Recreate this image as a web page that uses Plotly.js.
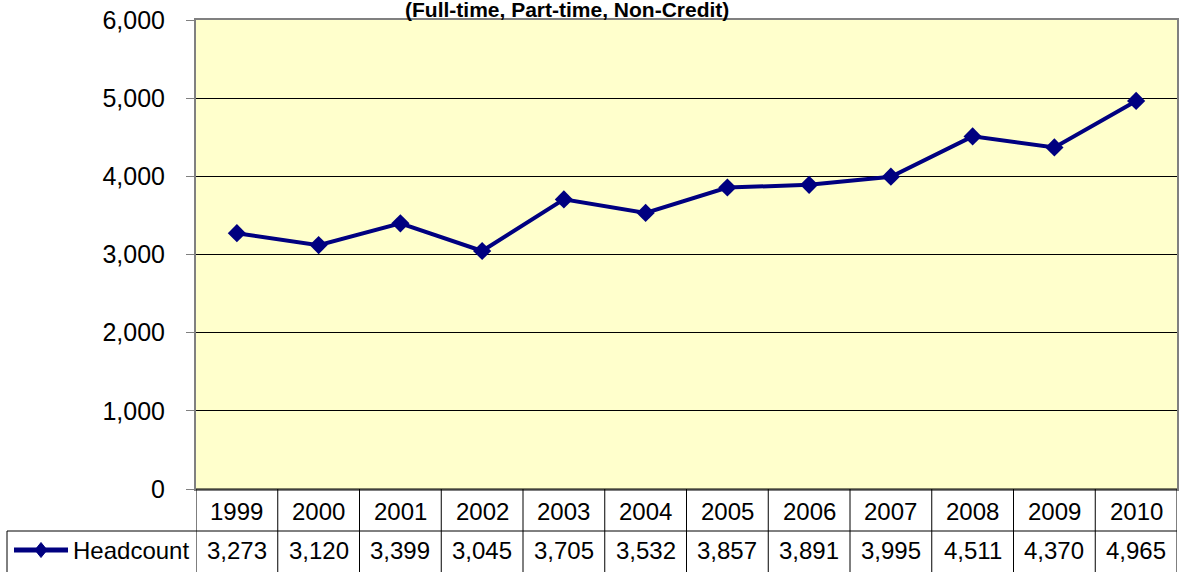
<!DOCTYPE html>
<html>
<head>
<meta charset="utf-8">
<script src="https://cdn.plot.ly/plotly-3.0.1.min.js"></script>
<style>html,body{margin:0;padding:0;background:#fff;}#chart{width:1186px;height:572px;}</style>
</head>
<body>
<div id="chart"></div>
<script>
const years = ["1999","2000","2001","2002","2003","2004","2005","2006","2007","2008","2009","2010"];
const headcount = [3273, 3120, 3399, 3045, 3705, 3532, 3857, 3891, 3995, 4511, 4370, 4965];
const seriesName = "Headcount";
const subtitle = "(Full-time, Part-time, Non-Credit)";
const yTicks = [0, 1000, 2000, 3000, 4000, 5000, 6000];

const plotH = 469, plotW = 981, plotL = 196, plotB = 489;
const py = p => (plotB - p) / plotH;   // pixel y -> paper
const px = p => (p - plotL) / plotW;   // pixel x -> paper
const row1 = py(531), row2 = py(572);
const fontFam = "Liberation Sans, Arial, sans-serif";

const shapes = [];
const annotations = [];
// table vertical lines
for (let i = 0; i <= years.length; i++) {
  shapes.push({type: "line", xref: "x", yref: "paper", x0: i - 0.5, x1: i - 0.5, y0: 0, y1: row2,
    line: {color: "#000", width: 1}});
}
// horizontal lines
shapes.push({type: "line", xref: "paper", yref: "paper", x0: px(7), x1: 1, y0: row1, y1: row1, line: {color: "#000", width: 1}});
shapes.push({type: "line", xref: "paper", yref: "paper", x0: px(7), x1: px(7), y0: row1, y1: row2, line: {color: "#000", width: 1}});
shapes.push({type: "line", xref: "paper", yref: "paper", x0: 0, x1: 1, y0: 0, y1: 0, line: {color: "#000", width: 1}});
// legend key
const keyY = py(550);
shapes.push({type: "line", xref: "paper", yref: "paper", x0: px(14), x1: px(68), y0: keyY, y1: keyY, line: {color: "#000080", width: 5}});
const dx = 6 / plotW, dy = 7.5 / plotH, kxc = px(41);
shapes.push({type: "path", xref: "paper", yref: "paper",
  path: `M ${kxc - dx} ${keyY} L ${kxc} ${keyY + dy} L ${kxc + dx} ${keyY} L ${kxc} ${keyY - dy} Z`,
  fillcolor: "#000080", line: {color: "#000080", width: 1}});
annotations.push({xref: "paper", yref: "paper", x: px(71), y: keyY, xanchor: "left", yanchor: "middle",
  text: seriesName, showarrow: false, font: {family: fontFam, size: 24, color: "#000"}});

years.forEach((yr, i) => {
  annotations.push({xref: "x", yref: "paper", x: i, y: py(511), xanchor: "center", yanchor: "middle",
    text: yr, showarrow: false, font: {family: fontFam, size: 24, color: "#000"}});
  annotations.push({xref: "x", yref: "paper", x: i, y: keyY, xanchor: "center", yanchor: "middle",
    text: headcount[i].toLocaleString("en-US"), showarrow: false, font: {family: fontFam, size: 24, color: "#000"}});
});

annotations.push({xref: "paper", yref: "paper", x: px(567), y: 1, yshift: 11, xanchor: "center", yanchor: "middle",
  text: "<b>" + subtitle + "</b>", showarrow: false, font: {family: fontFam, size: 21, color: "#000"}});

const trace = {
  x: years, y: headcount, type: "scatter", mode: "lines+markers", name: seriesName,
  line: {color: "#000080", width: 4},
  marker: {symbol: "diamond", size: 14, color: "#000080"},
  cliponaxis: false
};

const layout = {
  width: 1186, height: 572,
  margin: {l: 196, r: 9, t: 20, b: 83},
  paper_bgcolor: "#ffffff", plot_bgcolor: "#FFFFCC",
  showlegend: false,
  font: {family: fontFam, color: "#000"},
  xaxis: {type: "category", range: [-0.5, 11.5], showticklabels: false, showgrid: false, zeroline: false,
    showline: true, mirror: true, linecolor: "#808080", linewidth: 2, ticks: ""},
  yaxis: {range: [0, 6000], tickvals: yTicks, ticktext: yTicks.map(v => v.toLocaleString("en-US")),
    showgrid: true, gridcolor: "#000", gridwidth: 1, zeroline: false,
    showline: true, mirror: true, linecolor: "#808080", linewidth: 2,
    ticks: "outside", ticklen: 8, tickcolor: "#808080", tickwidth: 1, ticklabelstandoff: 16,
    tickfont: {family: fontFam, size: 25, color: "#000"}},
  shapes: shapes,
  annotations: annotations
};

Plotly.newPlot("chart", [trace], layout, {displayModeBar: false, staticPlot: true});
</script>
</body>
</html>
